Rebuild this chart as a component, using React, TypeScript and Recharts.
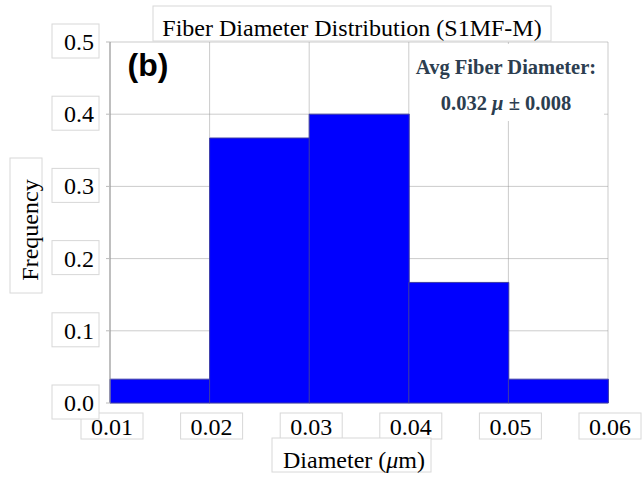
import React from "react";
import { BarChart, Bar, XAxis, YAxis, CartesianGrid } from "recharts";

const binStart = [0.01, 0.02, 0.03, 0.04, 0.05];
const frequency = [0.033, 0.367, 0.4, 0.167, 0.033];
const diameterTicks = [0.01, 0.02, 0.03, 0.04, 0.05, 0.06];
const frequencyTicks = [0, 0.1, 0.2, 0.3, 0.4, 0.5];

const data = binStart.map((start, i) => ({
  bin: `${start.toFixed(2)}-${(start + 0.01).toFixed(2)}`,
  start,
  frequency: frequency[i],
}));

const serif = '"Liberation Serif", "DejaVu Serif", serif';
const boxStroke = "#d8d8d8";

function YTick({ x, y, payload }: any) {
  return (
    <g>
      <rect x={x - 42} y={y - 18} width={47} height={34} fill="#fff" stroke={boxStroke} />
      <text x={x} y={y + 8} textAnchor="end" style={{ fontFamily: serif, fontSize: 24 }} fill="#000">
        {Number(payload.value).toFixed(1)}
      </text>
    </g>
  );
}

function XTick({ x, y, payload }: any) {
  return (
    <g>
      <rect x={x - 29} y={y + 10} width={62} height={26} fill="#fff" stroke={boxStroke} />
      <text x={x + 2} y={y + 32} textAnchor="middle" style={{ fontFamily: serif, fontSize: 24 }} fill="#000">
        {Number(payload.value).toFixed(2)}
      </text>
    </g>
  );
}

export default function App() {
  return (
    <div style={{ position: "absolute", left: 0, top: 0, width: 642, height: 478, background: "#fff" }}>
      <BarChart
        width={642}
        height={478}
        data={data}
        margin={{ top: 42, right: 34, bottom: 35, left: 50 }}
        barCategoryGap={0}
        barGap={0}
      >
        <XAxis
          xAxisId="num"
          dataKey="start"
          type="number"
          scale="linear"
          domain={[0.01, 0.06]}
          ticks={diameterTicks}
          allowDataOverflow
          height={40}
          axisLine={false}
          tickLine={false}
          tickSize={0}
          tickMargin={0}
          interval={0}
          tick={<XTick />}
        />
        <XAxis xAxisId="bins" dataKey="bin" height={0} hide />
        <YAxis
          domain={[0, 0.5]}
          ticks={frequencyTicks}
          width={60}
          axisLine={{ stroke: "#999" }}
          tickLine={{ stroke: "#bbb" }}
          tickSize={4}
          tickMargin={12}
          interval={0}
          tick={<YTick />}
        />
        <Bar
          xAxisId="bins"
          dataKey="frequency"
          fill="#0000ff"
          stroke="#3c3ca6"
          strokeWidth={1}
          isAnimationActive={false}
        />
        <CartesianGrid xAxisId="num" stroke="#999" strokeOpacity={0.5} />
      </BarChart>
      <svg
        width={642}
        height={478}
        style={{ position: "absolute", left: 0, top: 0, pointerEvents: "none" }}
      >
        <rect x={153} y={6} width={398} height={35} fill="#fff" stroke={boxStroke} />
        <text x={352} y={36} textAnchor="middle" fontFamily={serif} fontSize={24} fill="#000">
          Fiber Diameter Distribution (S1MF-M)
        </text>
        <text
          x={148}
          y={76}
          textAnchor="middle"
          fontFamily='"Liberation Sans", Arial, sans-serif'
          fontWeight="bold"
          fontSize={32}
          fill="#000"
        >
          (b)
        </text>
        <rect x={410} y={44} width={194} height={77} fill="#fff" />
        <text x={506} y={74} textAnchor="middle" fontFamily={serif} fontWeight="bold" fontSize={20.5} fill="#2c3e50">
          Avg Fiber Diameter:
        </text>
        <text x={506} y={110} textAnchor="middle" fontFamily={serif} fontWeight="bold" fontSize={20.5} fill="#2c3e50">
          0.032 <tspan fontStyle="italic">μ</tspan> ± 0.008
        </text>
        <rect x={272} y={438} width={159} height={34} fill="#fff" stroke={boxStroke} />
        <text x={354} y={468} textAnchor="middle" fontFamily={serif} fontSize={24} fill="#000">
          Diameter (<tspan fontStyle="italic">μ</tspan>m)
        </text>
        <rect x={10} y={158} width={32} height={135} fill="#fff" stroke={boxStroke} />
        <text
          x={38}
          y={230}
          transform="rotate(-90, 38, 230)"
          textAnchor="middle"
          fontFamily={serif}
          fontSize={24}
          fill="#000"
        >
          Frequency
        </text>
      </svg>
    </div>
  );
}
